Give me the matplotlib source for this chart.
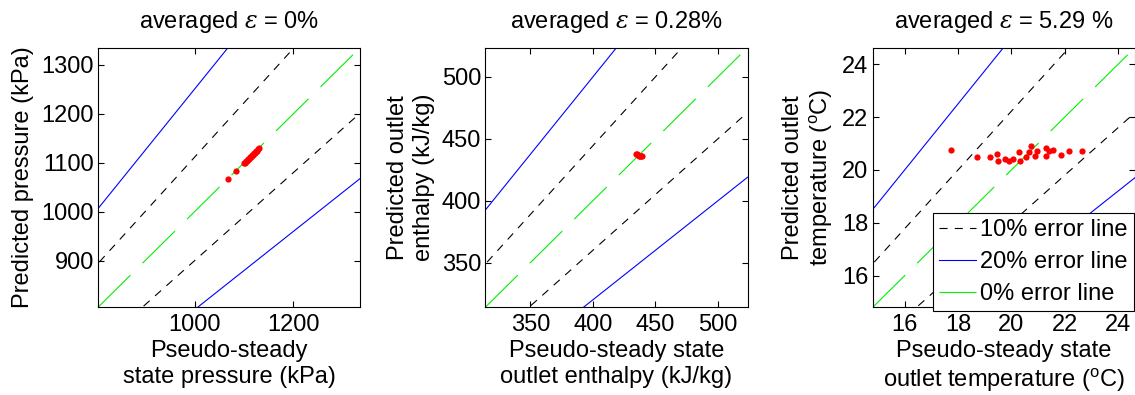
import numpy as np
import matplotlib
matplotlib.use("Agg")
import matplotlib.pyplot as plt

plt.rcParams["font.family"] = ["Liberation Sans", "DejaVu Sans"]
plt.rcParams["mathtext.fontset"] = "custom"
plt.rcParams["mathtext.rm"] = "Liberation Sans"
plt.rcParams["mathtext.it"] = "DejaVu Serif:italic"
plt.rcParams["lines.scale_dashes"] = False

# ---- data -------------------------------------------------------------
titles = ["averaged $\\varepsilon$ = 0%",
          "averaged $\\varepsilon$ = 0.28%",
          "averaged $\\varepsilon$ = 5.29 %"]
xlabels = ["Pseudo-steady\nstate pressure (kPa)",
           "Pseudo-steady state\noutlet enthalpy (kJ/kg)",
           "Pseudo-steady state\noutlet temperature ($^\\mathrm{o}$C)"]
ylabels = ["Predicted pressure (kPa)",
           "Predicted outlet\nenthalpy (kJ/kg)",
           "Predicted outlet\ntemperature ($^\\mathrm{o}$C)"]

# pressure (kPa)
pressure_ref = [1067, 1084, 1100, 1102, 1104, 1106, 1108, 1110, 1112, 1114,
                1116, 1118, 1120, 1122, 1124, 1126, 1128, 1130]
pressure_pred = [1066, 1083, 1099, 1100, 1103, 1104, 1107, 1108, 1111, 1112,
                 1115, 1116, 1119, 1120, 1123, 1124, 1127, 1129]

# outlet enthalpy (kJ/kg)
enthalpy_ref = [434.6, 435.2, 435.8, 436.5, 437.2, 438.0, 438.6, 439.0]
enthalpy_pred = [437.6, 437.4, 437.0, 436.7, 436.4, 436.2, 436.1, 436.3]

# outlet temperature (deg C)
temp_ref = [17.72, 18.70, 19.21, 19.47, 19.50, 19.75, 19.90, 20.06, 20.29,
            20.31, 20.56, 20.65, 20.73, 20.88, 20.96, 21.29, 21.29, 21.41,
            21.56, 21.84, 22.14, 22.65]
temp_pred = [20.77, 20.49, 20.49, 20.61, 20.33, 20.43, 20.33, 20.40, 20.66,
             20.33, 20.49, 20.68, 20.89, 20.52, 20.71, 20.83, 20.52, 20.71,
             20.77, 20.55, 20.71, 20.71]

# axis ranges and ticks
ranges = [(805, 1335), (314, 523.8), (14.8, 24.63)]
ticks_x = [[1000, 1200], [350, 400, 450, 500], [16, 18, 20, 22, 24]]
ticks_y = [[900, 1000, 1100, 1200, 1300], [350, 400, 450, 500],
           [16, 18, 20, 22, 24]]

err10 = 0.10
err20 = 0.20

refs = [pressure_ref, enthalpy_ref, temp_ref]
preds = [pressure_pred, enthalpy_pred, temp_pred]

# ---- figure -----------------------------------------------------------
fig = plt.figure(figsize=(11.35, 3.95), dpi=100)
W, H = 1135.0, 395.0
lefts = [98, 485.3, 872.7]
top_px, bot_px = 47.5, 307.3
ax_w = 262.3

FS = 17
black_dash = (0, (5.8, 5.2))
green_dash = (0, (32.9, 12.2))

axes = []
for i in range(3):
    ax = fig.add_axes([lefts[i] / W, (H - bot_px) / H, ax_w / W,
                       (bot_px - top_px) / H])
    axes.append(ax)
    lo, hi = ranges[i]
    t = np.array([lo, hi])

    h10, = ax.plot(t * (1 - err10), t, color="black", lw=0.8,
                   linestyle=black_dash)
    ax.plot(t, t * (1 - err10), color="black", lw=0.8, linestyle=black_dash)
    h20, = ax.plot(t * (1 - err20), t, color="blue", lw=0.8)
    ax.plot(t, t * (1 - err20), color="blue", lw=0.8)
    h0, = ax.plot(t, t, color="#00f000", lw=0.8, linestyle=green_dash)

    ax.plot(refs[i], preds[i], "o", color="red", ms=4.5, mec="red", mew=0)

    ax.set_xlim(lo, hi)
    ax.set_ylim(lo, hi)
    ax.set_xticks(ticks_x[i])
    ax.set_yticks(ticks_y[i])
    ax.tick_params(direction="in", length=4, width=0.8, top=True,
                   right=True, labelsize=FS, colors="black")
    ax.tick_params(axis="x", pad=5)
    ax.tick_params(axis="y", pad=3)
    for s in ax.spines.values():
        s.set_linewidth(0.8)
    ax.set_title(titles[i], fontsize=17, pad=14)
    ax.set_xlabel(xlabels[i], fontsize=FS, labelpad=3)
    ax.set_ylabel(ylabels[i], fontsize=FS, labelpad=5)

leg = axes[2].legend([h10, h20, h0],
                     ["10% error line", "20% error line", "0% error line"],
                     loc="lower right", bbox_to_anchor=(0.995, -0.014),
                     borderaxespad=0, fontsize=FS, handlelength=1.55,
                     handletextpad=0.2, labelspacing=0.42, borderpad=0.25,
                     fancybox=False, framealpha=1, edgecolor="black")
leg.get_frame().set_linewidth(0.8)

fig.savefig("out.png", dpi=100)
